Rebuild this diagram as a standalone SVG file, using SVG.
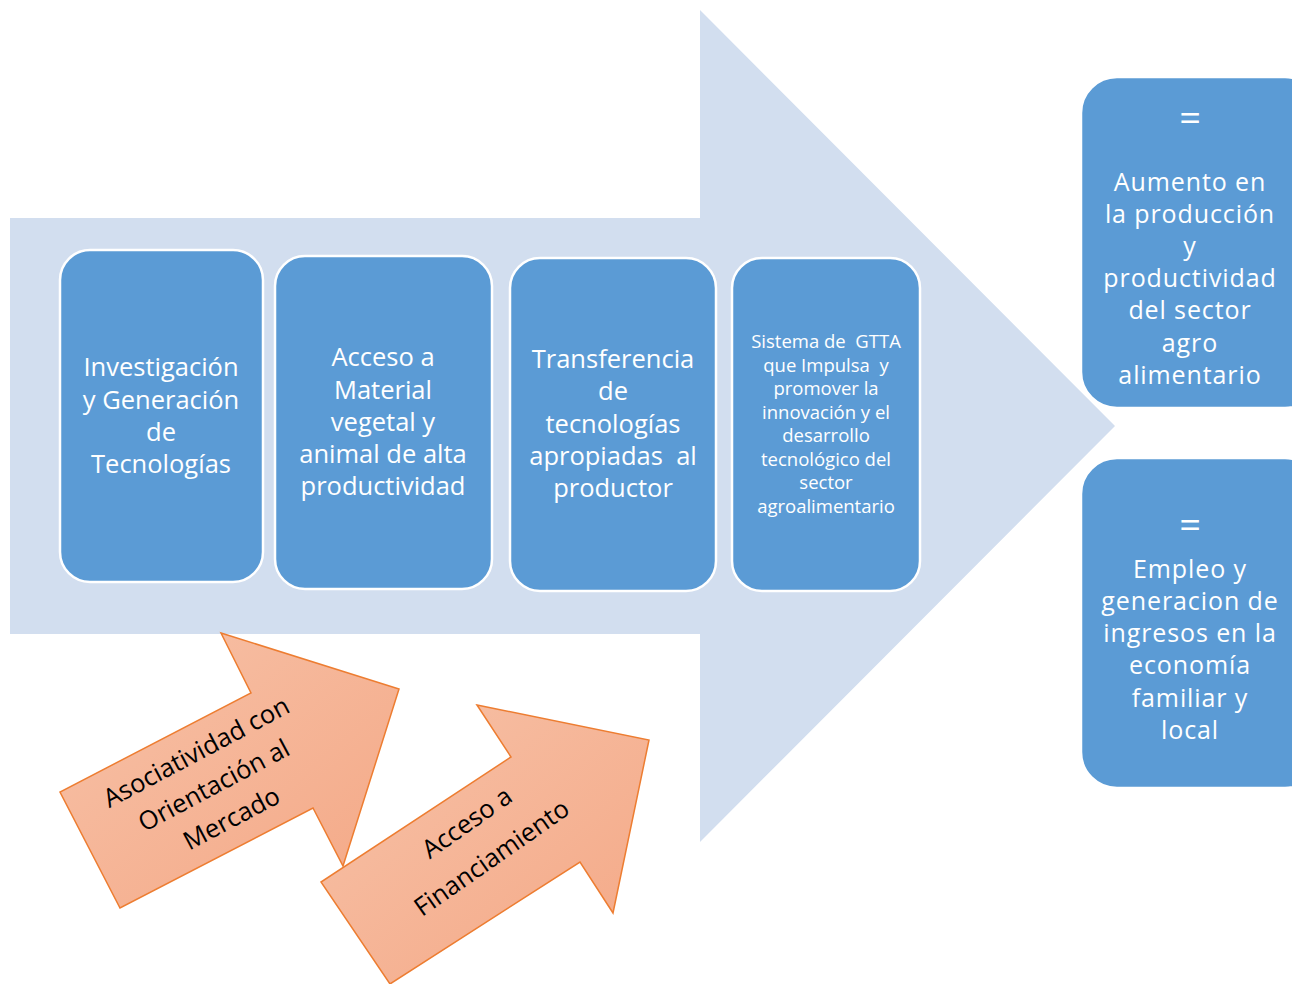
<svg xmlns="http://www.w3.org/2000/svg" width="1292" height="984" viewBox="0 0 1292 984">
<defs>
<linearGradient id="og" x1="0" y1="0" x2="1" y2="1">
<stop offset="0" stop-color="#F7C2A8"/>
<stop offset="1" stop-color="#F4A886"/>
</linearGradient>
<style>
.box{fill:#5B9BD5;stroke:#FFFFFF;stroke-width:2.5}
.t{font-family:"Open Sans","Noto Sans",sans-serif;fill:#FFFFFF;text-anchor:middle;white-space:pre}
.big{font-size:25.5px}
.rt{font-size:25px;letter-spacing:0.9px}
.eq{font-size:38px}
.sm{font-size:18.5px}
.orr{fill:url(#og);stroke:#ED7D31;stroke-width:1.5;stroke-linejoin:miter}
.ot{font-family:"Open Sans","Noto Sans",sans-serif;font-size:25.5px;fill:#000000;text-anchor:middle}
</style>
</defs>
<rect width="1292" height="984" fill="#FFFFFF"/>
<g id="main-arrow">
<polygon points="10,218 700,218 700,10 1115,426 700,842 700,634 10,634" fill="#D2DEEF"/>
</g>
<g id="node-investigacion">
<rect class="box" x="60" y="250" width="203" height="332" rx="30"/>
<text class="t big"><tspan x="161" y="376">Investigación</tspan><tspan x="161" y="409">y Generación</tspan><tspan x="161" y="441">de</tspan><tspan x="161" y="473">Tecnologías</tspan></text>
</g>
<g id="node-acceso-material">
<rect class="box" x="275" y="256" width="217" height="333" rx="30"/>
<text class="t big"><tspan x="383" y="366">Acceso a</tspan><tspan x="383" y="399">Material</tspan><tspan x="383" y="431">vegetal y</tspan><tspan x="383" y="463">animal de alta</tspan><tspan x="383" y="495">productividad</tspan></text>
</g>
<g id="node-transferencia">
<rect class="box" x="510" y="258" width="206" height="333" rx="30"/>
<text class="t big"><tspan x="613" y="368">Transferencia</tspan><tspan x="613" y="400">de</tspan><tspan x="613" y="433">tecnologías</tspan><tspan x="613" y="465">apropiadas  al</tspan><tspan x="613" y="497">productor</tspan></text>
</g>
<g id="node-sistema">
<rect class="box" x="732" y="258" width="188" height="333" rx="30"/>
<text class="t sm"><tspan x="826" y="348">Sistema de  GTTA</tspan><tspan x="826" y="372">que Impulsa  y</tspan><tspan x="826" y="395">promover la</tspan><tspan x="826" y="419">innovación y el</tspan><tspan x="826" y="442">desarrollo</tspan><tspan x="826" y="466">tecnológico del</tspan><tspan x="826" y="489">sector</tspan><tspan x="826" y="513">agroalimentario</tspan></text>
</g>
<g id="node-aumento">
<rect class="box" x="1081" y="77" width="240" height="331" rx="36"/>
<text class="t eq" x="1190" y="131">=</text>
<text class="t rt"><tspan x="1190" y="191">Aumento en</tspan><tspan x="1190" y="223">la producción</tspan><tspan x="1190" y="255">y</tspan><tspan x="1190" y="287">productividad</tspan><tspan x="1190" y="319">del sector</tspan><tspan x="1190" y="352">agro</tspan><tspan x="1190" y="384">alimentario</tspan></text>
</g>
<g id="node-empleo">
<rect class="box" x="1081" y="458" width="240" height="330" rx="36"/>
<text class="t eq" x="1190" y="538">=</text>
<text class="t rt"><tspan x="1190" y="578">Empleo y</tspan><tspan x="1190" y="610">generacion de</tspan><tspan x="1190" y="642">ingresos en la</tspan><tspan x="1190" y="674">economía</tspan><tspan x="1190" y="707">familiar y</tspan><tspan x="1190" y="739">local</tspan></text>
</g>
<g id="node-asociatividad">
<polygon class="orr" points="221,633 399,689 343,866 313,808 120,908 60,792 251,693"/>
<g transform="translate(218,793) rotate(-28)">
<text class="ot"><tspan x="0" y="-37.5">Asociatividad con</tspan><tspan x="0" y="0">Orientación al</tspan><tspan x="0" y="37.5">Mercado</tspan></text>
</g>
</g>
<g id="node-financiamiento">
<polygon class="orr" points="477,705 649,740 613,913 580,862 390,984 321,882 511,757"/>
<g transform="translate(484,847) rotate(-35)">
<text class="ot"><tspan x="0" y="-21">Acceso a</tspan><tspan x="0" y="22">Financiamiento</tspan></text>
</g>
</g>
<g id="connectors"></g>
</svg>
